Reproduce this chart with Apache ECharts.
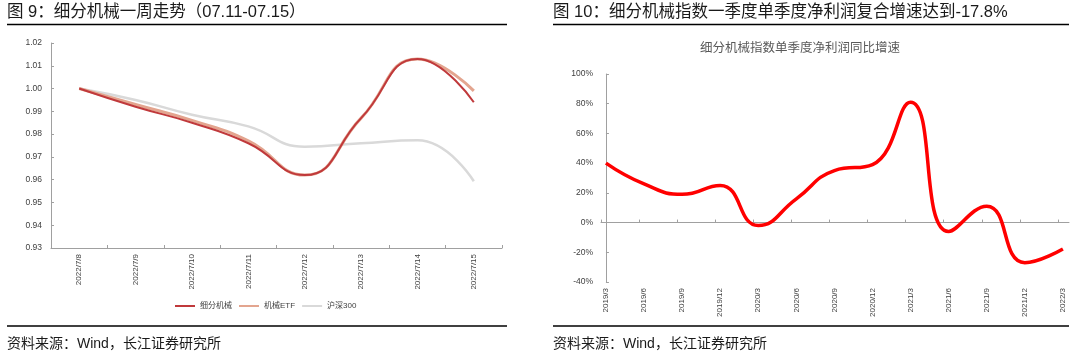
<!DOCTYPE html>
<html>
<head>
<meta charset="utf-8">
<script src="https://cdn.jsdelivr.net/npm/echarts@6/dist/echarts.min.js"></script>
<style>
html,body{margin:0;padding:0;background:#fff;}
#wrap{position:relative;width:1080px;height:361px;}
#left{position:absolute;left:0;top:0;width:540px;height:361px;}
#right{position:absolute;left:540px;top:0;width:540px;height:361px;}
</style>
</head>
<body>
<div id="wrap"><div id="left"></div><div id="right"></div></div>
<script>
// ---- Data: left chart (weekly trend) ----
const days = ['2022/7/8','2022/7/9','2022/7/10','2022/7/11','2022/7/12','2022/7/13','2022/7/14','2022/7/15'];
const machinery = [1.000, 0.992, 0.985, 0.976, 0.962, 0.987, 1.013, 0.994];
const machineryETF = [1.000, 0.993, 0.986, 0.977, 0.962, 0.987, 1.013, 0.999];
const hs300 = [1.000, 0.995, 0.9885, 0.9834, 0.9745, 0.976, 0.9773, 0.9593];
const leftNames = ['细分机械', '机械ETF', '沪深300'];

// ---- Data: right chart (quarterly profit growth, %) ----
const quarters = ['2019/3','2019/6','2019/9','2019/12','2020/3','2020/6','2020/9','2020/12','2021/3','2021/6','2021/9','2021/12','2022/3'];
const profitGrowth = [40, 26, 19, 25, -2, 16, 35, 39, 81, -6, 11, -27, -17.8];

const FONT = "'Liberation Sans', 'Noto Sans CJK SC', sans-serif";
const AX = '#a0a0a0';
const LBL = '#404040';
const SOURCE = '资料来源：Wind，长江证券研究所';

const leftChart = echarts.init(document.getElementById('left'));
leftChart.setOption({
  animation: false,
  backgroundColor: '#ffffff',
  title: [
    {text: '图 9：细分机械一周走势（07.11-07.15）', left: 7, top: 4, padding: 0,
      textStyle: {fontSize: 16.5, fontWeight: 'normal', color: '#1a1a1a', fontFamily: FONT}},
    {text: SOURCE, left: 7, top: 337, padding: 0,
      textStyle: {fontSize: 14, fontWeight: 'normal', color: '#1a1a1a', fontFamily: FONT}}
  ],
  graphic: [
    {type: 'line', shape: {x1: 7, y1: 24.5, x2: 507, y2: 24.5}, style: {stroke: '#000', lineWidth: 1.5}},
    {type: 'line', shape: {x1: 7, y1: 326, x2: 507, y2: 326}, style: {stroke: '#000', lineWidth: 1.5}}
  ],
  legend: {
    data: leftNames, left: 170, top: 297,
    itemWidth: 20, itemHeight: 2, itemGap: 7, icon: 'rect',
    textStyle: {fontSize: 8, color: LBL, fontFamily: FONT}
  },
  grid: {left: 51, top: 43, width: 451, height: 205},
  xAxis: {
    type: 'category', data: days,
    axisLine: {show: true, onZero: false, lineStyle: {color: AX, width: 1}},
    axisTick: {show: true, inside: true, length: 3, lineStyle: {color: AX}},
    axisLabel: {rotate: 90, fontSize: 8, color: LBL, margin: 6, fontFamily: FONT}
  },
  yAxis: {
    type: 'value', min: 0.93, max: 1.02, interval: 0.01, splitLine: {show: false},
    axisLine: {show: true, lineStyle: {color: AX}},
    axisTick: {show: true, inside: true, length: 3, lineStyle: {color: AX}},
    axisLabel: {fontSize: 8.5, color: LBL, margin: 9, formatter: v => v.toFixed(2), fontFamily: FONT}
  },
  series: [
    {name: leftNames[2], type: 'line', data: hs300, smooth: 0.5, showSymbol: false,
      itemStyle: {color: '#d9d9d9'}, lineStyle: {color: '#d9d9d9', width: 2.5}},
    {name: leftNames[1], type: 'line', data: machineryETF, smooth: 0.5, showSymbol: false,
      itemStyle: {color: '#e3a58f'}, lineStyle: {color: '#e3a58f', width: 3}},
    {name: leftNames[0], type: 'line', data: machinery, smooth: 0.5, showSymbol: false,
      itemStyle: {color: '#c0393b'}, lineStyle: {color: '#c0393b', width: 2}}
  ]
});

const rightChart = echarts.init(document.getElementById('right'));
rightChart.setOption({
  animation: false,
  backgroundColor: '#ffffff',
  title: [
    {text: '图 10：细分机械指数一季度单季度净利润复合增速达到-17.8%', left: 13, top: 4, padding: 0,
      textStyle: {fontSize: 16.5, fontWeight: 'normal', color: '#1a1a1a', fontFamily: FONT}},
    {text: SOURCE, left: 13, top: 337, padding: 0,
      textStyle: {fontSize: 14, fontWeight: 'normal', color: '#1a1a1a', fontFamily: FONT}},
    {text: '细分机械指数单季度净利润同比增速', left: 260, top: 42, padding: 0, textAlign: 'center',
      textStyle: {fontSize: 12.5, fontWeight: 'normal', color: '#595959', fontFamily: FONT}}
  ],
  graphic: [
    {type: 'line', shape: {x1: 13, y1: 24.5, x2: 529, y2: 24.5}, style: {stroke: '#000', lineWidth: 1.5}},
    {type: 'line', shape: {x1: 13, y1: 326, x2: 529, y2: 326}, style: {stroke: '#000', lineWidth: 1.5}}
  ],
  grid: {left: 61, top: 74, width: 468, height: 208},
  xAxis: [
    {type: 'value', min: -0.13, max: 12.16, position: 'bottom',
      axisLine: {show: false, onZero: false}, axisTick: {show: false}, splitLine: {show: false},
      axisLabel: {rotate: 90, fontSize: 8, color: LBL, margin: 6, fontFamily: FONT,
        customValues: quarters.map((q, i) => i), formatter: v => quarters[Math.round(v)] || ''}},
    {type: 'value', min: -0.13, max: 12.16, position: 'top',
      axisLine: {show: true, onZero: true, lineStyle: {color: AX}},
      axisTick: {show: true, length: 3, lineStyle: {color: AX}, customValues: quarters.map((q, i) => i - 0.13)},
      splitLine: {show: false}, axisLabel: {show: false}}
  ],
  yAxis: {
    type: 'value', min: -40, max: 100, interval: 20, splitLine: {show: false},
    axisLine: {show: true, lineStyle: {color: AX}},
    axisTick: {show: true, inside: true, length: 3, lineStyle: {color: AX}},
    axisLabel: {fontSize: 8.5, color: LBL, margin: 8, formatter: '{value}%', fontFamily: FONT}
  },
  series: [
    {name: '细分机械指数单季度净利润同比增速', type: 'line', xAxisIndex: 0, yAxisIndex: 0,
      data: quarters.map((q, i) => [i, profitGrowth[i]]), smooth: 0.5, showSymbol: false,
      itemStyle: {color: '#ff0000'}, lineStyle: {color: '#ff0000', width: 3.5}}
  ]
});
</script>
</body>
</html>
